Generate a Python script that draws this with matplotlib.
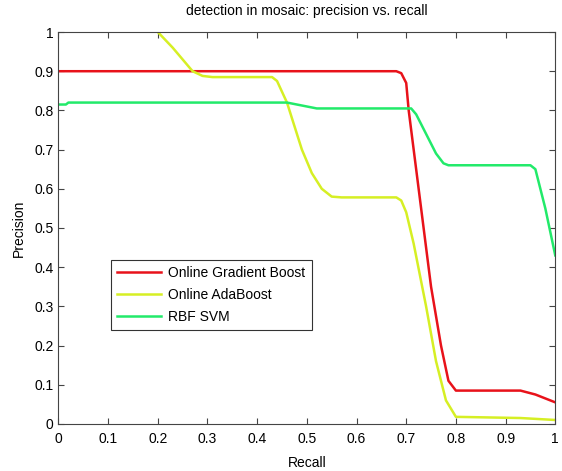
import numpy as np
import matplotlib.pyplot as plt

# precision/recall curves
gb_recall = [0, 0.68, 0.69, 0.70, 0.705, 0.72, 0.735, 0.75, 0.77, 0.785, 0.80, 0.93, 0.96, 1.0]
gb_prec = [0.9, 0.9, 0.895, 0.87, 0.80, 0.65, 0.50, 0.35, 0.20, 0.11, 0.085, 0.085, 0.075, 0.055]

ada_recall = [0.2, 0.23, 0.27, 0.29, 0.31, 0.43, 0.44, 0.46, 0.475, 0.49, 0.51, 0.53, 0.55, 0.57,
              0.68, 0.69, 0.70, 0.715, 0.74, 0.76, 0.78, 0.80, 0.93, 1.0]
ada_prec = [1.0, 0.96, 0.90, 0.888, 0.885, 0.885, 0.875, 0.82, 0.76, 0.70, 0.64, 0.60, 0.58, 0.578,
            0.578, 0.57, 0.54, 0.46, 0.30, 0.16, 0.06, 0.018, 0.015, 0.01]

svm_recall = [0, 0.015, 0.02, 0.46, 0.48, 0.52, 0.70, 0.71, 0.72, 0.74, 0.76, 0.775, 0.785,
              0.95, 0.96, 0.98, 1.0]
svm_prec = [0.815, 0.815, 0.82, 0.82, 0.815, 0.805, 0.805, 0.805, 0.79, 0.74, 0.69, 0.665, 0.66,
            0.66, 0.65, 0.55, 0.43]

tick_labels = ['0', '0.1', '0.2', '0.3', '0.4', '0.5', '0.6', '0.7', '0.8', '0.9', '1']

plt.rcParams['font.family'] = ['Liberation Sans', 'DejaVu Sans']
plt.rcParams['font.size'] = 10

fig = plt.figure(figsize=(5.62, 4.71), dpi=100)
ax = fig.add_axes([0.104, 0.1, 0.884, 0.832])

ax.plot(gb_recall, gb_prec, color='#e8121a', lw=1.8, label='Online Gradient Boost')
ax.plot(ada_recall, ada_prec, color='#d6ef24', lw=1.8, label='Online AdaBoost')
ax.plot(svm_recall, svm_prec, color='#22ea6a', lw=1.8, label='RBF SVM')

ax.set_xlim(0, 1)
ax.set_ylim(0, 1)
ax.set_xticks(np.arange(0, 1.01, 0.1))
ax.set_yticks(np.arange(0, 1.01, 0.1))
ax.set_xticklabels(tick_labels)
ax.set_yticklabels(tick_labels)
ax.tick_params(direction='in', top=True, right=True, length=4, color='#444444')
ax.tick_params(axis='x', pad=6)
for s in ax.spines.values():
    s.set_color('#444444')

ax.set_xlabel('Recall', labelpad=7)
ax.set_ylabel('Precision', labelpad=6)
ax.set_title('detection in mosaic: precision vs. recall', fontsize=10, pad=12)

leg = ax.legend(loc='lower left', bbox_to_anchor=(0.105, 0.24), fancybox=False,
                edgecolor='black', handlelength=3.2, borderpad=0.45, labelspacing=0.55,
                handletextpad=0.5, borderaxespad=0)
leg.get_frame().set_linewidth(0.8)

fig.savefig('out.png', dpi=100)
